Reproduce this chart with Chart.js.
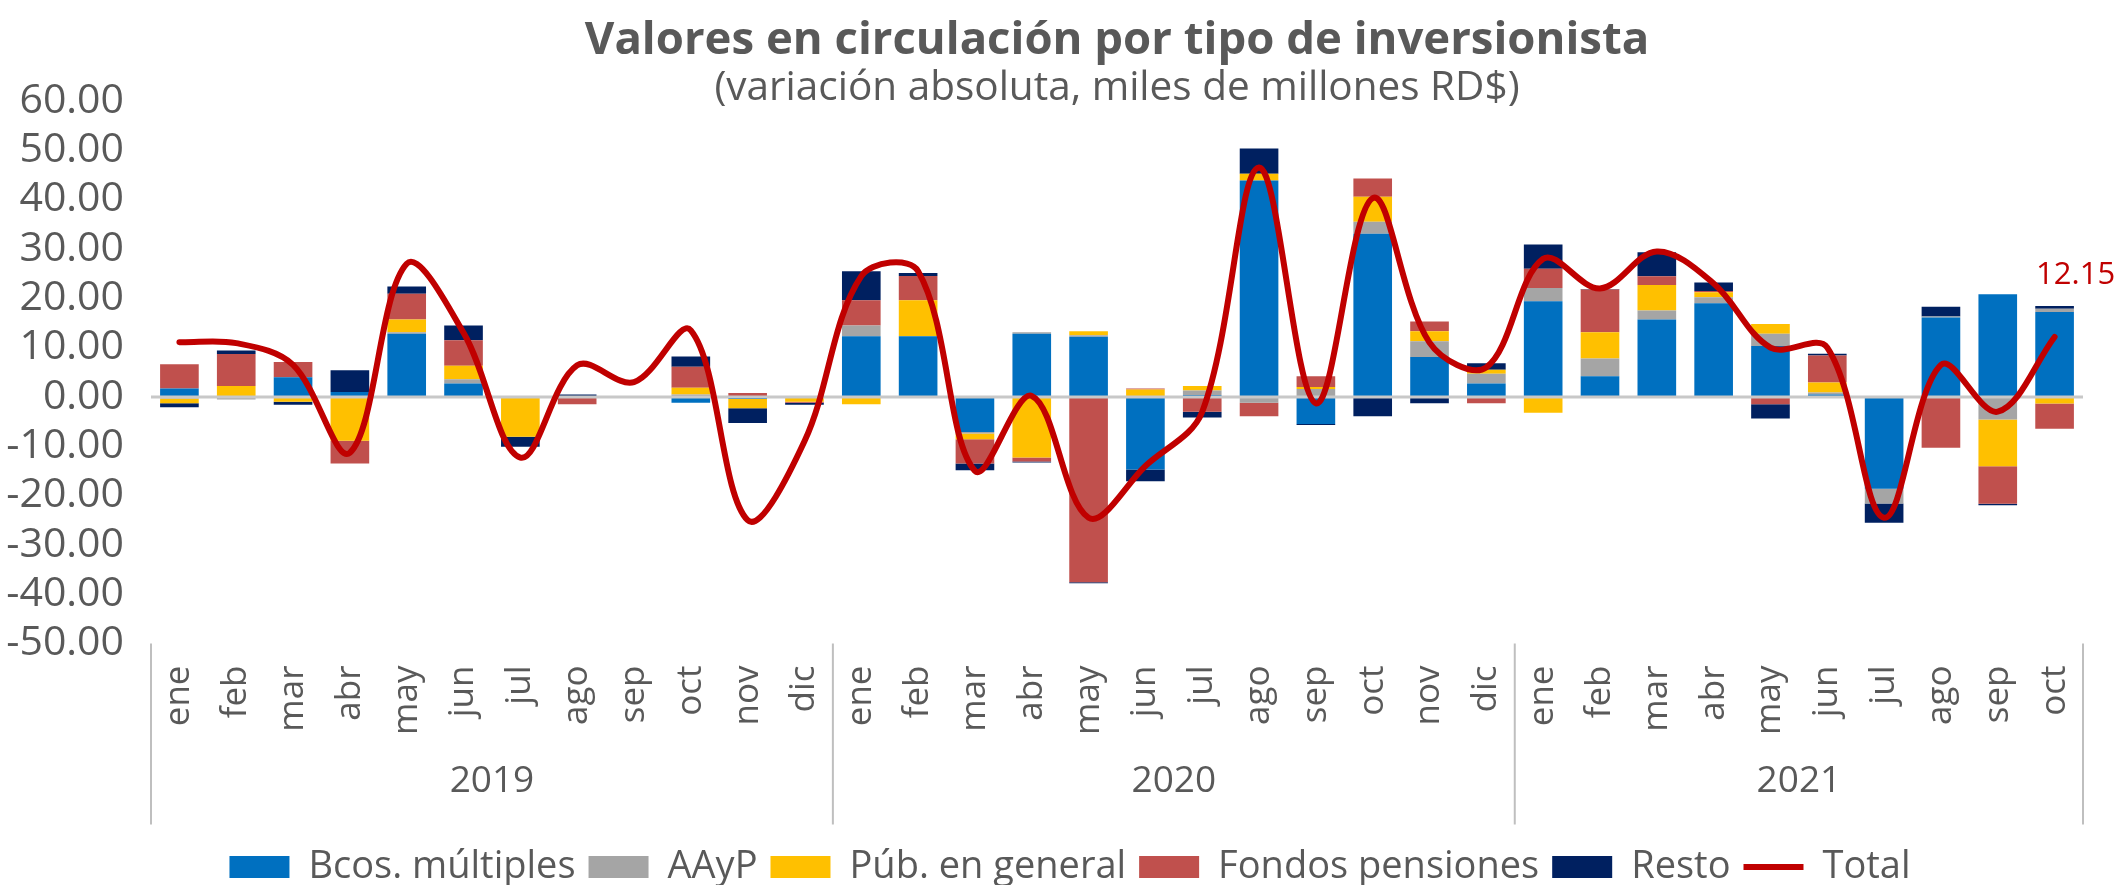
<!DOCTYPE html>
<html>
<head>
<meta charset="utf-8">
<script src="https://cdn.jsdelivr.net/npm/chart.js@4/dist/chart.umd.min.js"></script>
<style>
html,body{margin:0;padding:0;background:#ffffff;}
#wrap{width:2118px;height:885px;}
</style>
</head>
<body>
<div id="wrap"><canvas id="c" width="2118" height="885"></canvas></div>
<script>
// ---- data ----
const monthNames = ['ene','feb','mar','abr','may','jun','jul','ago','sep','oct','nov','dic'];
const years = ['2019','2020','2021'];
const monthsPerYear = [12, 12, 10];

const bcosMultiples = [1.7, 0, 4.0, 1.0, 12.8, 2.7, 0, 0.2, 0, -1.2, -0.4, 0,
  12.3, 12.3, -7.1, 12.8, 12.2, -14.7, 0.4, 43.9, -5.5, 33.1, 8.1, 2.7,
  19.4, 4.2, 15.7, 19.0, 10.3, 0.5, -18.6, 16.1, 20.8, 17.2];
const aayp = [-0.3, -0.5, -0.2, 0, 0.3, 0.9, -0.2, 0, 0, 0.5, 0.2, 0,
  2.2, 0, -0.3, 0.3, 0.3, 0, 0.9, -1.2, 1.6, 2.4, 3.2, 2.0,
  2.7, 3.6, 1.8, 1.2, 2.5, 0.4, -3.0, 0.2, -4.6, 0.7];
const pubGeneral = [-1.0, 2.2, -0.8, -8.9, 2.6, 2.7, -7.9, 0, 0, 1.35, -1.9, -1.0,
  -1.5, 7.3, -1.2, -12.3, 0.8, 1.5, 0.9, 1.35, 0.4, 5.1, 2.0, 0.8,
  -3.2, 5.3, 5.2, 1.0, 2.0, 2.0, 0, 0, -9.45, -1.35];
const fondosPensiones = [4.9, 6.5, 3.1, -4.6, 5.2, 5.2, 0, -1.5, 0, 4.25, 0.6, -0.2,
  5.1, 4.9, -4.9, -0.8, -37.6, 0.2, -3.0, -2.7, 2.2, 3.7, 2.0, -1.3,
  3.9, 8.7, 1.75, 0.3, -1.5, 5.5, 0, -10.3, -7.6, -5.1];
const resto = [-0.8, 0.7, -0.6, 4.4, 1.5, 3.0, -2.0, 0.3, 0, 2.1, -3.0, -0.4,
  5.9, 0.6, -1.35, -0.2, -0.2, -2.4, -1.2, 5.1, -0.2, -3.9, -1.3, 1.35,
  4.9, 0.1, 4.9, 1.7, -2.9, 0.35, -3.9, 2.0, -0.3, 0.55];
const total = [11.1, 10.9, 6.5, -11.3, 27.0, 13.0, -12.3, 6.4, 3.0, 13.5, -25.0, -9.0,
  24.5, 25.5, -15.0, 0.2, -24.5, -14.0, -3.0, 46.5, -1.3, 40.3, 11.0, 6.0,
  28.0, 22.0, 29.5, 23.0, 10.0, 10.0, -24.5, 6.5, -3.0, 12.15];

const yTicks = {min: -50, max: 60, step: 10};

// ---- build labels ----
const categories = [];
monthsPerYear.forEach(n => { for (let i = 0; i < n; i++) categories.push(monthNames[i]); });

const FONT = "'Open Sans', sans-serif";
const TXT = '#595959';

const decor = {
  id: 'decor',
  afterLayout(chart) {
    // centre the legend row like the reference (slightly right of canvas centre)
    if (chart.legend) { chart.legend.left += 28.5; chart.legend.right += 28.5; }
  },
  beforeDatasetDraw(chart, args) {
    if (args.index !== 5) return;
    const {ctx, chartArea, scales: {y}} = chart;
    const y0 = y.getPixelForValue(0);
    ctx.save();
    ctx.strokeStyle = '#C8C8C8';
    ctx.lineWidth = 3;
    ctx.beginPath();
    ctx.moveTo(chartArea.left, y0);
    ctx.lineTo(chartArea.right, y0);
    ctx.stroke();
    ctx.restore();
  },
  afterDraw(chart) {
    const {ctx, chartArea, scales: {x}} = chart;
    const half = (x.getPixelForValue(1) - x.getPixelForValue(0)) / 2;
    ctx.save();
    ctx.strokeStyle = '#BFBFBF';
    ctx.lineWidth = 2;
    ctx.fillStyle = TXT;
    ctx.font = "37px " + FONT;
    ctx.textAlign = 'center';
    ctx.textBaseline = 'middle';
    let start = 0;
    monthsPerYear.forEach((n, g) => {
      const left = x.getPixelForValue(start) - half;
      const right = x.getPixelForValue(start + n - 1) + half;
      ctx.beginPath();
      if (g === 0) { ctx.moveTo(left, chartArea.bottom); ctx.lineTo(left, chartArea.bottom + 181); }
      ctx.moveTo(right, chartArea.bottom); ctx.lineTo(right, chartArea.bottom + 181);
      ctx.stroke();
      ctx.fillText(years[g], (left + right) / 2, chartArea.bottom + 138);
      start += n;
    });
    // value label for last total point
    const meta = chart.getDatasetMeta(5);
    const last = meta.data[meta.data.length - 1];
    ctx.fillStyle = '#C00000';
    ctx.font = "31px " + FONT;
    ctx.fillText(total[total.length - 1].toFixed(2), last.x + 21, last.y - 62);
    ctx.restore();
  }
};

const barDefaults = {type: 'bar', stack: 'inv', order: 1, borderWidth: 0, pointStyle: 'rect',
  barPercentage: 0.68, categoryPercentage: 1.0};

new Chart(document.getElementById('c'), {
  type: 'bar',
  data: {
    labels: categories,
    datasets: [
      Object.assign({label: 'Bcos. múltiples', data: bcosMultiples, backgroundColor: '#0070C0'}, barDefaults),
      Object.assign({label: 'AAyP', data: aayp, backgroundColor: '#A5A5A5'}, barDefaults),
      Object.assign({label: 'Púb. en general', data: pubGeneral, backgroundColor: '#FFC000'}, barDefaults),
      Object.assign({label: 'Fondos pensiones', data: fondosPensiones, backgroundColor: '#C0504D'}, barDefaults),
      Object.assign({label: 'Resto', data: resto, backgroundColor: '#002060'}, barDefaults),
      {type: 'line', label: 'Total', data: total, stack: 'total', order: 0,
       borderColor: '#C00000', backgroundColor: '#C00000', borderWidth: 6,
       pointRadius: 0, pointHoverRadius: 0, pointStyle: 'line', tension: 0.35,
       borderCapStyle: 'round', borderJoinStyle: 'round', fill: false}
    ]
  },
  options: {
    responsive: false,
    devicePixelRatio: 1,
    animation: false,
    layout: {padding: {top: 0, left: 0, right: 35, bottom: -11}},
    plugins: {
      title: {display: true, fullSize: false, text: 'Valores en circulación por tipo de inversionista',
        color: TXT, font: {family: FONT, size: 45.5, weight: 'bold', lineHeight: 1.0},
        padding: {top: 18.5, bottom: 0}},
      subtitle: {display: true, fullSize: false, text: '(variación absoluta, miles de millones RD$)',
        color: TXT, font: {family: FONT, size: 40.5, weight: 'normal', lineHeight: 1.0},
        padding: {top: 4.5, bottom: -8}},
      legend: {position: 'bottom',
        labels: {color: TXT, font: {family: FONT, size: 38}, usePointStyle: true,
          pointStyleWidth: 60, boxHeight: 22, padding: 13,
          sort: (a, b) => a.datasetIndex - b.datasetIndex}},
      tooltip: {enabled: false}
    },
    scales: {
      x: {
        stacked: true,
        grid: {display: false},
        border: {display: false},
        ticks: {color: TXT, font: {family: FONT, size: 35}, minRotation: 90, maxRotation: 90,
          autoSkip: false, padding: 14},
        afterFit(scale) { scale.height = 191.5; }
      },
      y: {
        stacked: true,
        min: yTicks.min, max: yTicks.max,
        grid: {display: false, drawTicks: false},
        border: {display: false},
        ticks: {stepSize: yTicks.step, autoSkip: false, color: TXT,
          font: {family: FONT, size: 41}, padding: 27,
          callback: v => Number(v).toFixed(2)},
        afterFit(scale) { scale.width = 151; }
      }
    }
  },
  plugins: [decor]
});
</script>
</body>
</html>
